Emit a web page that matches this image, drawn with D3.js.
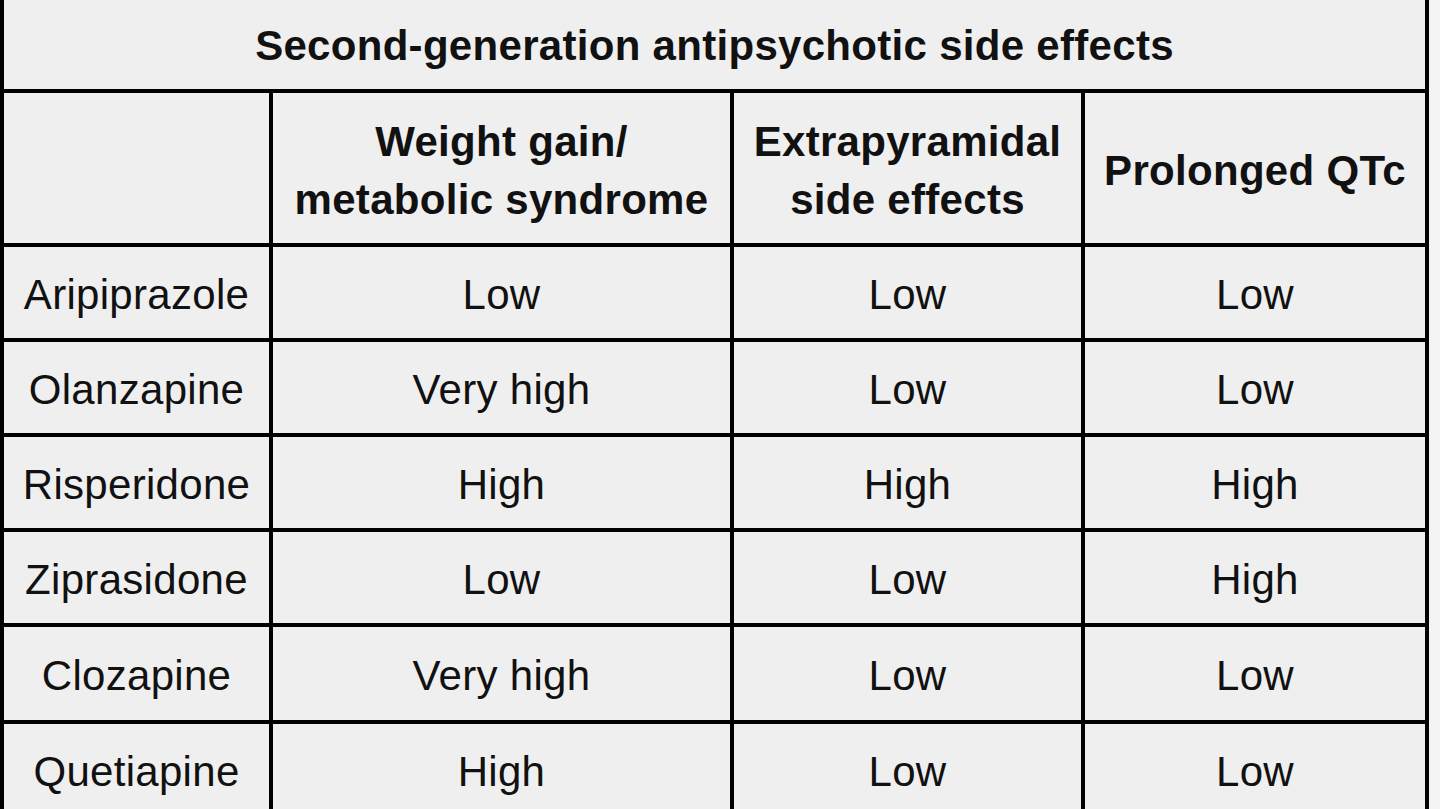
<!DOCTYPE html>
<html><head><meta charset="utf-8">
<script src="https://cdn.jsdelivr.net/npm/d3@7"></script>
<style>body{margin:0;background:#f4f4f4}svg{display:block}</style>
</head><body><svg id="t" width="1440" height="809"></svg>
<script>
var title = "Second-generation antipsychotic side effects";
var columns = [["Weight gain/", "metabolic syndrome"], ["Extrapyramidal", "side effects"], ["Prolonged QTc"]];
var drugs = ["Aripiprazole", "Olanzapine", "Risperidone", "Ziprasidone", "Clozapine", "Quetiapine"];
var weightGain = ["Low", "Very high", "High", "Low", "Very high", "High"];
var extrapyramidal = ["Low", "Low", "High", "Low", "Low", "Low"];
var qtc = ["Low", "Low", "High", "High", "Low", "Low"];

var svg = d3.select("#t");
var colX = [2, 271, 732, 1083, 1427];
var rowY = [-10, 91, 245, 340, 435, 530, 625, 722, 817];
var font = "'Liberation Sans', Arial, sans-serif";

svg.append("rect").attr("x", 2).attr("y", -10).attr("width", 1425).attr("height", 830).attr("fill", "#efefef");

function txt(x, y, s, bold) {
   svg.append("text").attr("x", x).attr("y", y).attr("text-anchor", "middle")
      .attr("dominant-baseline", "central").attr("font-family", font)
      .attr("font-size", 42).attr("letter-spacing", 0.3).attr("font-weight", bold ? "bold" : "normal")
      .attr("fill", "#111").text(s);
}

txt((colX[0] + colX[4]) / 2, 45, title, true);
columns.forEach(function(lines, i) {
   var cx = (colX[i + 1] + colX[i + 2]) / 2, cy = (rowY[1] + rowY[2]) / 2 + 2;
   lines.forEach(function(l, j) {
      txt(cx, cy + (j - (lines.length - 1) / 2) * 58, l, true);
   });
});
var cols = [drugs, weightGain, extrapyramidal, qtc];
drugs.forEach(function(d, r) {
   var cy = (rowY[r + 2] + rowY[r + 3]) / 2 + 2;
   cols.forEach(function(c, i) {
      txt((colX[i] + colX[i + 1]) / 2, cy, c[r], false);
   });
});

rowY.slice(1, 8).forEach(function(y) {
   svg.append("line").attr("x1", colX[0]).attr("x2", colX[4]).attr("y1", y).attr("y2", y)
      .attr("stroke", "#000").attr("stroke-width", 4);
});
colX.forEach(function(x, i) {
   svg.append("line").attr("x1", x).attr("x2", x)
      .attr("y1", (i == 0 || i == 4) ? -10 : rowY[1]).attr("y2", 820)
      .attr("stroke", "#000").attr("stroke-width", 4);
});
</script></body></html>
